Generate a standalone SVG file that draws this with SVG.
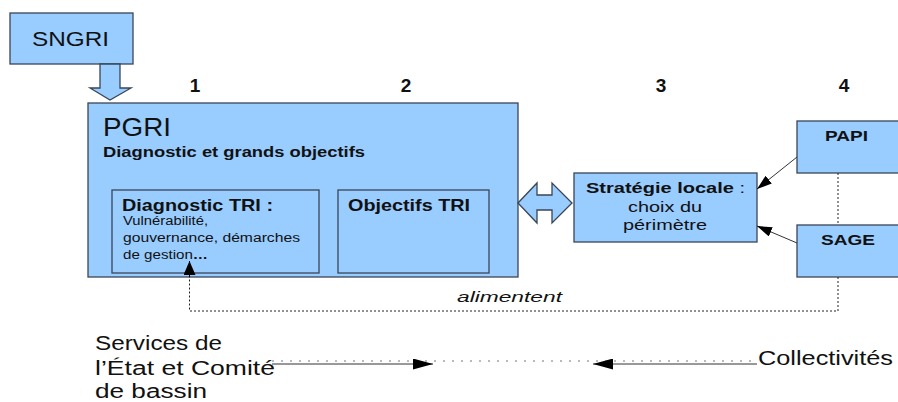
<svg xmlns="http://www.w3.org/2000/svg" width="898" height="402" viewBox="0 0 898 402">
<defs>
<style>
.box{fill:#99ccff;stroke:#3a4556;stroke-width:1.3}
.t{font-family:"Liberation Sans",Arial,sans-serif;fill:#111}
.b{font-weight:bold}
.dot{fill:none;stroke:#222;stroke-width:1;stroke-dasharray:2,2}
.ln{fill:none;stroke:#333;stroke-width:1}
</style>
<marker id="ah" viewBox="0 0 15 10" refX="15" refY="5" markerWidth="15" markerHeight="10" markerUnits="userSpaceOnUse" orient="auto"><path d="M0,0 L15,5 L0,10 z" fill="#000"/></marker>
<marker id="ahu" viewBox="0 0 14 12" refX="14" refY="6" markerWidth="14" markerHeight="12" markerUnits="userSpaceOnUse" orient="auto"><path d="M0,0 L14,6 L0,12 z" fill="#000"/></marker>
<marker id="ahb" viewBox="0 0 20 11" refX="20" refY="5.5" markerWidth="20" markerHeight="11" markerUnits="userSpaceOnUse" orient="auto"><path d="M0,0 L20,5.5 L0,11 z" fill="#000"/></marker>
</defs>
<rect width="898" height="402" fill="#fff"/>

<g id="sngri">
<rect class="box" x="10" y="13" width="123" height="51"/>
<text class="t" x="32" y="46" font-size="20" textLength="77" lengthAdjust="spacingAndGlyphs">SNGRI</text>
</g>

<g id="pgri">
<rect class="box" x="88" y="103" width="430" height="174"/>
<text class="t" x="103" y="136" font-size="25" textLength="68" lengthAdjust="spacingAndGlyphs">PGRI</text>
<text class="t" x="103" y="157" font-size="15" font-weight="bold" textLength="262" lengthAdjust="spacingAndGlyphs">Diagnostic et grands objectifs</text>
</g>

<g id="diag-tri">
<rect class="box" x="112" y="190" width="207" height="83"/>
<text class="t b" x="122" y="211" font-size="16.5" textLength="151" lengthAdjust="spacingAndGlyphs">Diagnostic TRI :</text>
<text class="t" x="123" y="225" font-size="12.5" fill="#333" textLength="85" lengthAdjust="spacingAndGlyphs">Vulnérabilité,</text>
<text class="t" x="123" y="242" font-size="12.5" fill="#333" textLength="177" lengthAdjust="spacingAndGlyphs">gouvernance, démarches</text>
<text class="t" x="123" y="259" font-size="12.5" fill="#333" textLength="85" lengthAdjust="spacingAndGlyphs">de gestion<tspan font-weight="bold" fill="#111">…</tspan></text>
</g>

<g id="obj-tri">
<rect class="box" x="338" y="190" width="151" height="83"/>
<text class="t b" x="348" y="211" font-size="16.5" textLength="122" lengthAdjust="spacingAndGlyphs">Objectifs TRI</text>
</g>

<g id="strategie">
<rect class="box" x="574" y="173" width="183" height="69"/>
<text class="t" x="586" y="193" font-size="14.5" textLength="159" lengthAdjust="spacingAndGlyphs"><tspan font-weight="bold">Stratégie locale</tspan> :</text>
<text class="t" x="628" y="212" font-size="14.5" textLength="74" lengthAdjust="spacingAndGlyphs">choix du</text>
<text class="t" x="623" y="230" font-size="14.5" textLength="84" lengthAdjust="spacingAndGlyphs">périmètre</text>
</g>

<g id="papi">
<rect class="box" x="797" y="121" width="110" height="52"/>
<text class="t b" x="825" y="141" font-size="14.5" textLength="43" lengthAdjust="spacingAndGlyphs">PAPI</text>
</g>

<g id="sage">
<rect class="box" x="797" y="225" width="110" height="52"/>
<text class="t b" x="821" y="245" font-size="15.5" textLength="54" lengthAdjust="spacingAndGlyphs">SAGE</text>
</g>

<g id="numbers">
<text class="t b" x="195" y="92" font-size="19" text-anchor="middle">1</text>
<text class="t b" x="406" y="92" font-size="19" text-anchor="middle">2</text>
<text class="t b" x="661" y="92" font-size="19" text-anchor="middle">3</text>
<text class="t b" x="844" y="92" font-size="19" text-anchor="middle">4</text>
</g>

<g id="labels-bottom">
<text class="t" x="95" y="350" font-size="20" textLength="127" lengthAdjust="spacingAndGlyphs">Services de</text>
<text class="t" x="95" y="375" font-size="20" textLength="180" lengthAdjust="spacingAndGlyphs">l’État et Comité</text>
<text class="t" x="95" y="398" font-size="20" textLength="112" lengthAdjust="spacingAndGlyphs">de bassin</text>
<text class="t" x="758" y="365" font-size="20" textLength="135" lengthAdjust="spacingAndGlyphs">Collectivités</text>
<text class="t" x="457" y="302" font-size="15" font-style="italic" textLength="105" lengthAdjust="spacingAndGlyphs">alimentent</text>
</g>

<g id="connectors">
<path class="box" d="M100,64 L120,64 L120,88 L131,88 L110,100 L90,88 L100,88 Z"/>
<path class="box" d="M518,203 L537,183 L537,195 L552,195 L552,183 L572,203 L552,223 L552,210 L537,210 L537,223 Z"/>
<line class="ln" x1="797" y1="157" x2="757" y2="189" marker-end="url(#ah)"/>
<line class="ln" x1="797" y1="243" x2="757" y2="226" marker-end="url(#ah)"/>
<path class="dot" d="M838,173 V225 M838,277 V311 H189.5 V276"/>
<line x1="189.5" y1="277" x2="189.5" y2="261" stroke="#000" stroke-width="1" marker-end="url(#ahu)"/>
<line x1="272" y1="361" x2="757" y2="361" stroke="#777" stroke-width="1" stroke-dasharray="2,7"/>
<line class="ln" x1="272" y1="364" x2="433" y2="364" stroke="#000" marker-end="url(#ahb)"/>
<line class="ln" x1="757" y1="364" x2="593" y2="364" stroke="#000" marker-end="url(#ahb)"/>
</g>
</svg>
